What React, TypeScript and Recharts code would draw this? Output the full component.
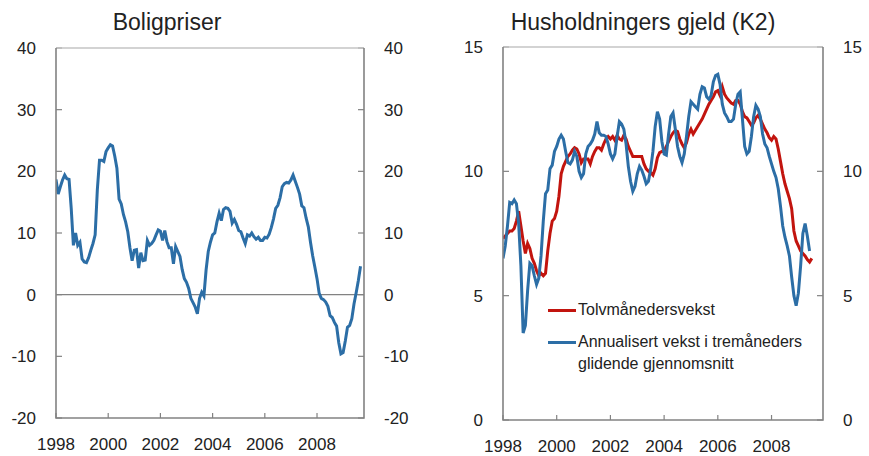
import React from 'react';
import {
    LineChart,
    Line,
    XAxis,
    YAxis,
    ReferenceLine
} from 'recharts';

const FONT = '"Liberation Sans", Arial, Helvetica, sans-serif';
const BLUE = '#2c6ea6';
const RED = '#c2140e';
const AXIS = '#828282';

// months from Jan 1998
const yearTicks = [1998, 2000, 2002, 2004, 2006, 2008];

// Boligpriser, tolvmånedersvekst (prosent), Jan 1998 - Sep 2009
const boligpriser = [
    18.7, 16.3, 17.5, 18.6, 19.4, 18.8, 18.7, 14.0, 8.0, 10.0, 8.0, 8.5,
    5.8, 5.3, 5.2, 6.0, 7.2, 8.3, 9.7, 17.0, 21.8, 21.8, 21.6, 23.2,
    23.8, 24.3, 24.1, 22.5, 20.5, 15.5, 14.7, 13.0, 11.8, 10.2, 7.6, 5.5,
    7.2, 7.3, 4.3, 6.8, 5.5, 5.6, 8.8, 8.0, 8.3, 8.8, 9.7, 10.5,
    10.3, 8.8, 10.4, 8.6, 7.6, 7.6, 5.0, 7.8, 7.0, 6.2, 4.1, 2.6,
    2.0, 1.0, -0.6, -1.3, -2.0, -3.1, -0.6, 0.4, -0.2, 4.0, 7.0, 8.5,
    9.7, 10.0, 11.8, 13.2, 12.0, 13.8, 14.1, 14.0, 13.5, 11.6, 12.2, 11.4,
    10.4, 10.2, 9.2, 8.3, 9.7, 9.5, 10.0, 9.4, 9.0, 9.3, 8.8, 8.8,
    9.3, 9.2, 9.8, 10.9, 12.3, 14.0, 14.5, 15.7, 17.5, 18.0, 18.2, 18.1,
    18.6, 19.4, 18.4, 17.4, 16.3, 14.4, 14.1, 12.4, 11.0, 8.5, 6.3, 4.5,
    2.6, 0.2, -0.6, -0.8, -1.2, -1.9, -3.4, -3.7, -4.5, -5.1, -7.8, -9.6,
    -9.4, -7.5, -5.3, -5.0, -3.9, -1.5, 0.3, 2.3, 4.6
];

// Husholdningers gjeld (K2), Jan 1998 - Jul 2009
const tolvmaanedersvekst = [
    7.3, 7.4, 7.5, 7.6, 7.6, 7.7, 8.0, 8.4, 7.8, 7.2, 6.7, 7.1,
    6.9, 6.5, 6.3, 6.0, 5.8, 5.9, 5.8, 5.9, 6.8, 7.5, 8.0, 8.1,
    8.4, 9.0, 9.9, 10.2, 10.4, 10.6, 10.7, 10.85, 10.95, 10.9, 10.7, 10.35,
    10.5, 10.5, 10.5, 10.3, 10.6, 10.8, 10.95, 10.95, 10.85, 11.1, 11.3, 11.4,
    11.3, 11.4, 11.25, 11.45, 11.3, 11.25, 11.45, 11.3, 11.0, 10.8, 10.6, 10.6,
    10.6, 10.6, 10.6, 10.3, 10.1, 10.0, 9.95, 9.85, 10.1, 10.55, 10.75, 10.8,
    10.8, 11.0, 11.2, 11.4, 11.55, 11.65, 11.6, 11.3, 11.1, 10.95, 11.15, 11.5,
    11.7, 11.5, 11.65, 11.8, 11.95, 12.1, 12.3, 12.5, 12.7, 12.85, 13.0, 13.2,
    13.25, 13.05, 13.4, 13.1, 12.95, 12.85, 12.75, 12.7, 12.85, 12.85, 12.7, 12.4,
    12.2, 12.15, 12.0, 11.85, 11.95, 12.15, 12.25, 12.1, 11.9, 11.7, 11.55, 11.35,
    11.25, 11.4, 11.3, 10.9, 10.4, 9.9, 9.5, 9.2, 8.9, 8.5, 7.6, 7.2,
    7.0, 6.8, 6.7, 6.6, 6.45, 6.35, 6.5
];

const annualisertVekst = [
    6.5, 7.0, 7.8, 8.75, 8.7, 8.85, 8.7, 7.9, 6.2, 3.5, 3.8, 5.2,
    6.3, 6.2, 5.8, 5.45, 5.7, 6.6, 8.0, 9.1, 9.25, 10.1, 10.25, 10.8,
    11.0, 11.3, 11.45, 11.3, 10.8, 10.35, 10.3, 10.45, 10.8, 10.6, 10.0, 9.75,
    9.9, 10.7, 11.0, 11.1, 11.25, 11.5, 12.0, 11.55, 11.45, 11.45, 11.4, 11.1,
    10.7, 10.5, 10.7, 11.4, 12.0, 11.9, 11.7, 11.1, 10.2, 9.6, 9.2, 9.4,
    9.9, 10.2, 10.05, 9.8, 9.5, 9.6, 10.1, 10.8, 11.8, 12.4, 12.1, 11.2,
    10.7, 10.65, 11.5, 12.2, 12.35, 11.7, 11.0, 10.6, 10.35, 10.7, 11.4, 12.2,
    12.8, 12.7, 12.6, 12.5, 13.1, 13.4, 13.35, 13.0, 12.9, 13.05, 13.6, 13.85,
    13.9, 13.5, 12.7, 12.35, 12.2, 12.0, 12.0, 12.1, 12.7, 13.1, 13.2, 12.1,
    11.0, 10.7, 10.8, 11.4, 12.2, 12.65, 12.5, 12.2, 11.5, 11.1, 10.95, 10.6,
    10.3, 10.0, 9.75, 9.3, 8.6, 7.8, 7.35, 7.0, 6.6, 5.75, 5.0, 4.6,
    5.1, 6.2, 7.5, 7.9, 7.4, 6.8, null
];

const leftTicks = [-20, -10, 0, 10, 20, 30, 40];
const rightTicks = [0, 5, 10, 15];

const legendItems = [
    { label: 'Tolvmånedersvekst', color: RED },
    { label: 'Annualisert vekst i tremåneders\nglidende gjennomsnitt', color: BLUE }
];

const leftData = boligpriser.map((v, i) => ({ m: i, v }));
const rightData = tolvmaanedersvekst.map((v, i) => ({ m: i, tolv: v, ann: annualisertVekst[i] }));
const monthTicks = yearTicks.map(y => (y - 1998) * 12);

const GAP = 20;
const X_AXIS_H = 30;

// layout of the two panels
const LEFT = { left: 0, width: 430, height: 456, margin: { top: 48, right: 16, bottom: 8, left: 0 }, yl: 56, yr: 50, max: 141.6 };
const RIGHT = { left: 440, width: 429, height: 456, margin: { top: 47, right: 0, bottom: 6, left: 0 }, yl: 63, yr: 46, max: 143 };

const plotBox = (p: typeof LEFT) => ({
    x: p.left + p.margin.left + p.yl,
    y: p.margin.top,
    w: p.width - p.margin.left - p.margin.right - p.yl - p.yr,
    h: p.height - p.margin.top - p.margin.bottom - X_AXIS_H
});

const makeYTick = (side: 'left' | 'right') => (props: any) => {
    const { x, y, payload } = props;
    const axisX = side === 'left' ? x + GAP : x - GAP;
    const innerX = side === 'left' ? axisX + 6 : axisX - 6;
    return (
        <g>
            <path d={`M${axisX},${y}L${innerX},${y}`} stroke={AXIS} strokeWidth={1.2} fill="none" />
            <text x={x} y={y} dy="0.36em" textAnchor={side === 'left' ? 'end' : 'start'}
                fontFamily={FONT} fontSize={17} fill="#222">{payload.value}</text>
        </g>
    );
};

const XTick = (props: any) => {
    const { x, y, payload } = props;
    const axisY = y - GAP;
    return (
        <g>
            <path d={`M${x},${axisY}L${x},${axisY - 5}`} stroke={AXIS} strokeWidth={1.2} fill="none" />
            <text x={x} y={y} dy="0.71em" textAnchor="middle"
                fontFamily={FONT} fontSize={17} fill="#222">{1998 + payload.value / 12}</text>
        </g>
    );
};

const Title = ({ text, left, width }: { text: string; left: number; width: number }) => (
    <div style={{
        position: 'absolute', top: 9, left, width, textAlign: 'center',
        fontFamily: FONT, fontSize: 23, lineHeight: '26px', color: '#222'
    }}>{text}</div>
);

// plot box outlines, drawn in one overlay svg
const FrameOverlay = () => (
    <svg width={869} height={456} style={{ position: 'absolute', left: 0, top: 0, pointerEvents: 'none' }}>
        {[LEFT, RIGHT].map((p, i) => {
            const b = plotBox(p);
            return (
                <g key={`frame-${i}`} fill="none">
                    <path d={`M${b.x},${b.y}H${b.x + b.w}`} stroke="#c4c4c4" strokeWidth={1.6} />
                    <path d={`M${b.x},${b.y}V${b.y + b.h}H${b.x + b.w}V${b.y}`} stroke={AXIS} strokeWidth={1.6} />
                </g>
            );
        })}
    </svg>
);

export default function App() {
    return (
        <div style={{ position: 'absolute', left: 0, top: 0, width: 869, height: 456, background: '#fff' }}>
            <Title text="Boligpriser" left={56} width={222} />
            <Title text="Husholdningers gjeld (K2)" left={505} width={276} />

            <div style={{ position: 'absolute', left: LEFT.left, top: 0 }}>
                <LineChart width={LEFT.width} height={LEFT.height} data={leftData} margin={LEFT.margin}>
                    <XAxis dataKey="m" type="number" domain={[0, LEFT.max]} ticks={monthTicks}
                        tick={<XTick />} tickLine={false} tickSize={0} tickMargin={GAP} height={X_AXIS_H}
                        axisLine={false} allowDataOverflow />
                    <YAxis domain={[-20, 40]} ticks={leftTicks} width={LEFT.yl} tick={makeYTick('left')}
                        tickLine={false} tickSize={0} tickMargin={GAP} axisLine={false} />
                    <YAxis yAxisId="right" orientation="right" domain={[-20, 40]} ticks={leftTicks} width={LEFT.yr}
                        tick={makeYTick('right')} tickLine={false} tickSize={0} tickMargin={GAP} axisLine={false} />
                    <ReferenceLine y={0} stroke={AXIS} strokeWidth={1.3} />
                    <Line yAxisId="right" dataKey="v" stroke="none" dot={false}
                        activeDot={false} legendType="none" isAnimationActive={false} />
                    <Line type="linear" dataKey="v" stroke={BLUE} strokeWidth={3} dot={false} isAnimationActive={false} />
                </LineChart>
            </div>

            <div style={{ position: 'absolute', left: RIGHT.left, top: 0 }}>
                <LineChart width={RIGHT.width} height={RIGHT.height} data={rightData} margin={RIGHT.margin}>
                    <XAxis dataKey="m" type="number" domain={[0, RIGHT.max]} ticks={monthTicks}
                        tick={<XTick />} tickLine={false} tickSize={0} tickMargin={GAP} height={X_AXIS_H}
                        axisLine={false} allowDataOverflow />
                    <YAxis domain={[0, 15]} ticks={rightTicks} width={RIGHT.yl} tick={makeYTick('left')}
                        tickLine={false} tickSize={0} tickMargin={GAP} axisLine={false} />
                    <YAxis yAxisId="right" orientation="right" domain={[0, 15]} ticks={rightTicks} width={RIGHT.yr}
                        tick={makeYTick('right')} tickLine={false} tickSize={0} tickMargin={GAP} axisLine={false} />
                    <Line yAxisId="right" dataKey="tolv" stroke="none" dot={false}
                        activeDot={false} legendType="none" isAnimationActive={false} />
                    <Line type="linear" dataKey="tolv" stroke={RED} strokeWidth={3}
                        dot={false} isAnimationActive={false} />
                    <Line type="linear" dataKey="ann" stroke={BLUE} strokeWidth={3}
                        dot={false} isAnimationActive={false} />
                </LineChart>
            </div>

            <FrameOverlay />

            <div style={{
                position: 'absolute', left: 548, top: 299, width: 300,
                fontFamily: FONT, fontSize: 16, color: '#222', lineHeight: '22px'
            }}>
                {legendItems.map((item, index) => (
                    <div key={`item-${index}`} style={{ display: 'flex', alignItems: 'flex-start', marginTop: index === 0 ? 0 : 10 }}>
                        <span style={{ display: 'inline-block', width: 28, height: 3, background: item.color, marginTop: 10, marginRight: 2, flex: 'none' }} />
                        <span style={{ whiteSpace: 'pre-line' }}>{item.label}</span>
                    </div>
                ))}
            </div>
        </div>
    );
}
